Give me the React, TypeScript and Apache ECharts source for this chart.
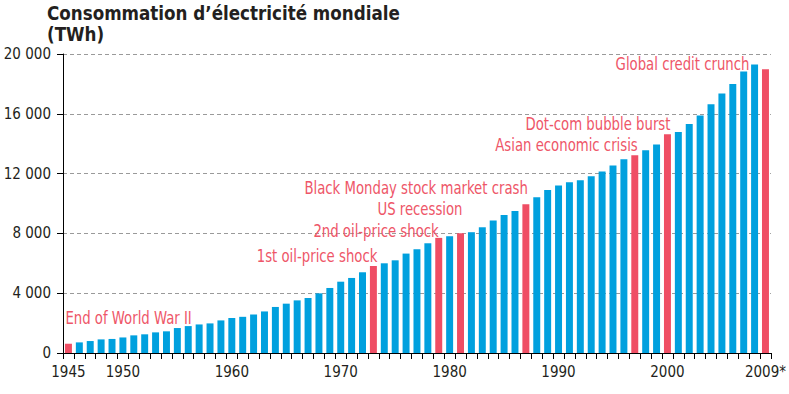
import React, { useEffect, useRef } from 'react';
import * as echarts from 'echarts';

const years = [
  '1945', '1946', '1947', '1948', '1949', '1950', '1951', '1952', '1953', '1954',
  '1955', '1956', '1957', '1958', '1959', '1960', '1961', '1962', '1963', '1964',
  '1965', '1966', '1967', '1968', '1969', '1970', '1971', '1972', '1973', '1974',
  '1975', '1976', '1977', '1978', '1979', '1980', '1981', '1982', '1983', '1984',
  '1985', '1986', '1987', '1988', '1989', '1990', '1991', '1992', '1993', '1994',
  '1995', '1996', '1997', '1998', '1999', '2000', '2001', '2002', '2003', '2004',
  '2005', '2006', '2007', '2008', '2009*',
];

const consumption = [
  620, 710, 800, 910, 940, 1040, 1180, 1250, 1380, 1450,
  1670, 1800, 1910, 1980, 2180, 2340, 2420, 2580, 2780, 3080,
  3300, 3520, 3680, 3990, 4350, 4770, 5020, 5400, 5820, 6000,
  6200, 6650, 6940, 7340, 7700, 7810, 8010, 8080, 8410, 8860,
  9230, 9500, 9950, 10420, 10900, 11200, 11420, 11550, 11820, 12140,
  12540, 12960, 13230, 13560, 13940, 14630, 14790, 15320, 15880, 16640,
  17350, 18000, 18830, 19300, 18980,
];

const crisisYears = ['1945', '1973', '1979', '1981', '1987', '1997', '2000', '2009*'];
const shownYearLabels = ['1945', '1950', '1960', '1970', '1980', '1990', '2000', '2009*'];

const annotationYears = ['1945', '1973', '1979', '1981', '1987', '1997', '2000', '2009*'];
const annotationTexts = [
  'End of World War II',
  '1st oil-price shock',
  '2nd oil-price shock',
  'US recession',
  'Black Monday stock market crash',
  'Asian economic crisis',
  'Dot-com bubble burst',
  'Global credit crunch',
];

// layout of the annotations: vertical anchor (in TWh on the value axis), horizontal offset & alignment
const annotationLayout = [
  { level: 2340, dx: -3, align: 'left' },
  { level: 6490, dx: 4, align: 'right' },
  { level: 8160, dx: 0, align: 'right' },
  { level: 9600, dx: 2, align: 'right' },
  { level: 11040, dx: 2, align: 'right' },
  { level: 13910, dx: 3, align: 'right' },
  { level: 15320, dx: 3, align: 'right' },
  { level: 19350, dx: -16, align: 'right' },
];

const yTicks = { min: 0, max: 20000, interval: 4000 };

const BLUE = '#00A0DE';
const RED = '#EF4E64';
const RED_TEXT = '#EE5668';
const INK = '#231F20';
const FONT = '"DejaVu Sans Condensed", "DejaVu Sans", sans-serif';

function fmtThousands(v: number): string {
  const s = String(Math.round(v));
  return s.replace(/\B(?=(\d{3})+(?!\d))/g, ' ');
}

export default function App() {
  const ref = useRef<HTMLDivElement>(null);

  useEffect(() => {
    if (!ref.current) return;
    const chart = echarts.init(ref.current, null, { renderer: 'svg' });
    const option: any = {
      animation: false,
      grid: { left: 63, right: 16, top: 54, bottom: 41, containLabel: false },
      xAxis: {
        type: 'category',
        data: years,
        boundaryGap: true,
        axisLine: { show: true, lineStyle: { color: '#000', width: 1 } },
        axisTick: { show: true, interval: 0, length: 6, lineStyle: { color: '#000' } },
        axisLabel: {
          interval: 0,
          formatter: (v: string) => (shownYearLabels.includes(v) ? v : ''),
          color: INK,
          fontFamily: FONT,
          fontSize: 15,
          margin: 11,
        },
        splitLine: { show: false },
      },
      yAxis: {
        type: 'value',
        min: yTicks.min,
        max: yTicks.max,
        interval: yTicks.interval,
        axisLine: { show: true, lineStyle: { color: '#000', width: 1 } },
        axisTick: { show: true, length: 6, lineStyle: { color: '#000' } },
        splitLine: { show: true, lineStyle: { color: '#9a9a9a', type: [4, 3], width: 1 } },
        axisLabel: {
          formatter: (v: number) => fmtThousands(v),
          color: INK,
          fontFamily: FONT,
          fontSize: 15,
          margin: 12,
        },
      },
      series: [
        {
          type: 'bar',
          barWidth: '64%',
          data: consumption.map((v, i) => ({
            value: v,
            itemStyle: { color: crisisYears.includes(years[i]) ? RED : BLUE },
          })),
        },
      ],
    };
    chart.setOption(option);

    const annotationGraphics = annotationTexts.map((text, i) => {
      const lay = annotationLayout[i];
      const p = chart.convertToPixel({ gridIndex: 0 }, [annotationYears[i], lay.level]) as number[];
      return {
        type: 'text',
        x: p[0] + lay.dx,
        y: p[1],
        scaleX: 0.82,
        silent: true,
        style: {
          text,
          fill: RED_TEXT,
          font: `18px ${FONT}`,
          textAlign: lay.align,
          textVerticalAlign: 'middle',
        },
      };
    });

    chart.setOption({
      graphic: [
        {
          type: 'text',
          x: 47,
          y: 13,
          scaleX: 0.98,
          silent: true,
          style: {
            text: 'Consommation d’électricité mondiale',
            fill: INK,
            font: `bold 19px ${FONT}`,
            textVerticalAlign: 'middle',
          },
        },
        {
          type: 'text',
          x: 47,
          y: 34,
          scaleX: 0.98,
          silent: true,
          style: { text: '(TWh)', fill: INK, font: `bold 19px ${FONT}`, textVerticalAlign: 'middle' },
        },
        ...annotationGraphics,
      ],
    });

    return () => chart.dispose();
  }, []);

  return (
    <div
      ref={ref}
      style={{ width: 789, height: 394, position: 'absolute', left: 0, top: 0 }}
    />
  );
}
